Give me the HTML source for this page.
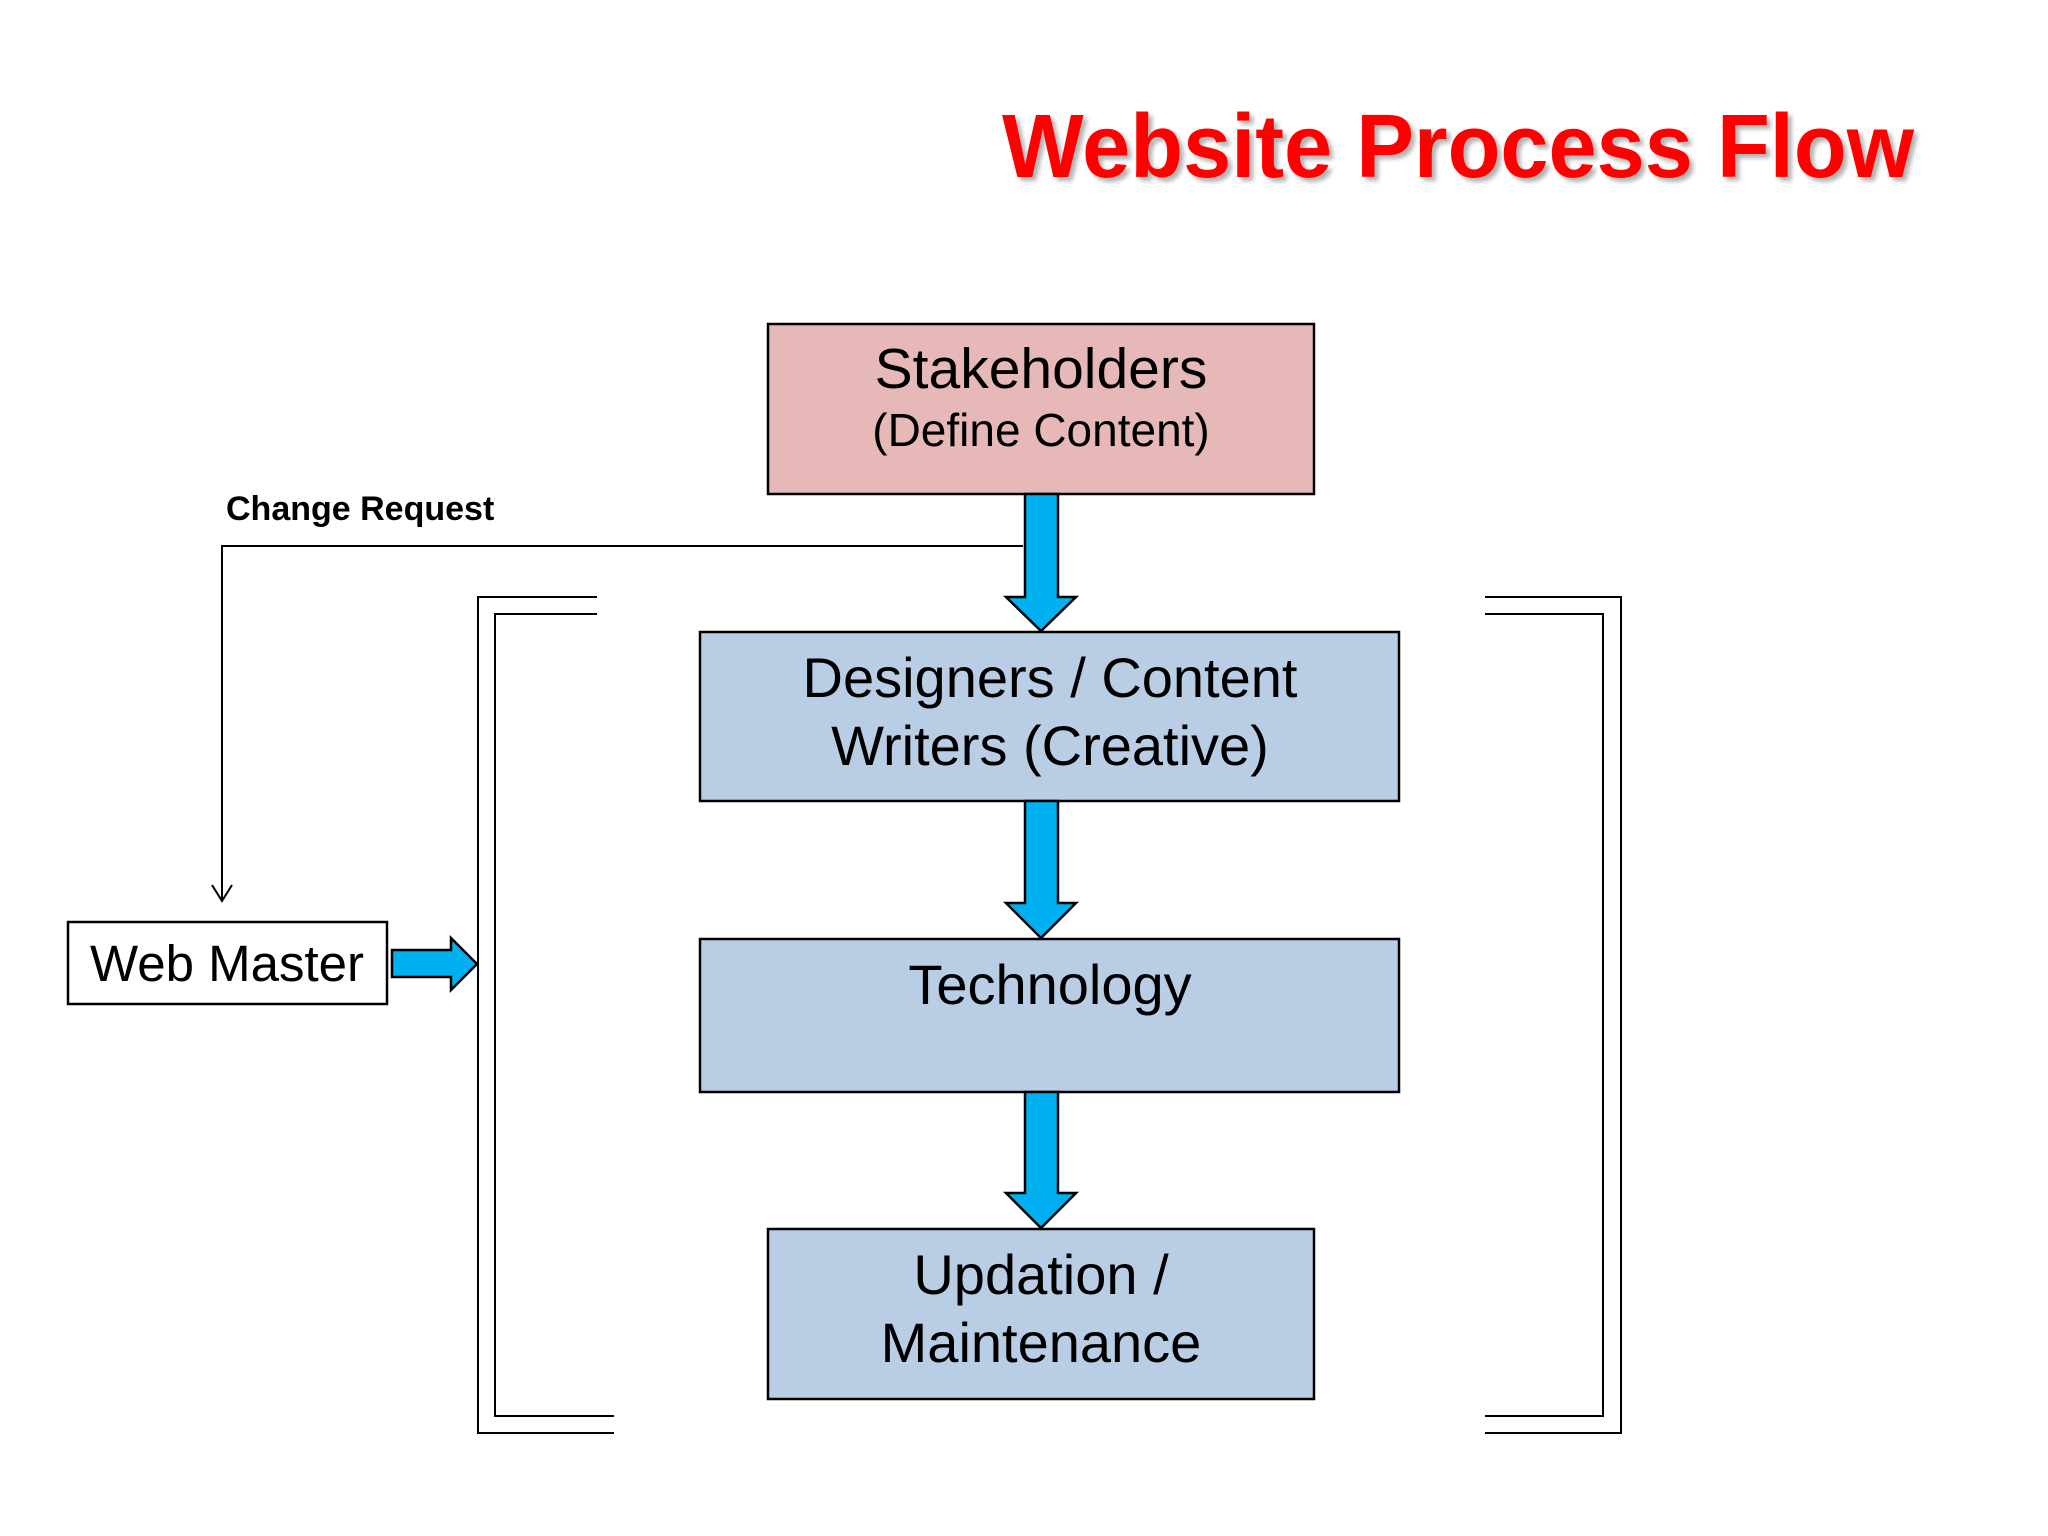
<!DOCTYPE html>
<html><head><meta charset="utf-8"><style>html,body{margin:0;padding:0;background:#fff}svg{display:block}</style></head>
<body>
<svg width="2048" height="1536" viewBox="0 0 2048 1536" xmlns="http://www.w3.org/2000/svg" font-family="Liberation Sans, sans-serif">
<defs><filter id="sh" x="-5%" y="-5%" width="110%" height="120%"><feDropShadow dx="4" dy="4" stdDeviation="2" flood-color="#000" flood-opacity="0.3"/></filter></defs>
<text x="1002" y="177" font-size="90" font-weight="bold" fill="#ff0000" textLength="912" lengthAdjust="spacingAndGlyphs" filter="url(#sh)">Website Process Flow</text>

<g stroke="#000" stroke-width="2.5">
<rect x="768" y="324" width="546" height="170" fill="#e6b8b8"/>
<rect x="700" y="632" width="699" height="169" fill="#b9cde5"/>
<rect x="700" y="939" width="699" height="153" fill="#b9cde5"/>
<rect x="768" y="1229" width="546" height="170" fill="#b9cde5"/>
<rect x="68" y="922" width="319" height="82" fill="#fff"/>
</g>

<g fill="#00b0f0" stroke="#000" stroke-width="2.5" stroke-linejoin="miter">
<polygon points="1025,494 1058,494 1058,597 1076,597 1041,631 1006,597 1025,597"/>
<polygon points="1025,801 1058,801 1058,903 1076,903 1041,938 1006,903 1025,903"/>
<polygon points="1025,1092 1058,1092 1058,1193 1076,1193 1041,1228 1006,1193 1025,1193"/>
<polygon points="392,950 451,950 451,938 477,964 451,990 451,977 392,977"/>
</g>

<g fill="none" stroke="#000" stroke-width="2">
<polyline points="1023,546 222,546 222,901"/>
<polyline points="212,885 222,901 232,885"/>
<polyline points="597,597 478,597 478,1433 614,1433"/>
<polyline points="597,614 495,614 495,1416 614,1416"/>
<polyline points="1485,597 1621,597 1621,1433 1485,1433"/>
<polyline points="1485,614 1603,614 1603,1416 1485,1416"/>
</g>

<text x="226" y="520" font-size="34" font-weight="bold">Change Request</text>

<g text-anchor="middle" fill="#000">
<text x="1041" y="388" font-size="57">Stakeholders</text>
<text x="1041" y="446" font-size="46">(Define Content)</text>
<text x="1050" y="697" font-size="56">Designers / Content</text>
<text x="1050" y="765" font-size="56">Writers (Creative)</text>
<text x="1050" y="1004" font-size="56">Technology</text>
<text x="1041" y="1294" font-size="56">Updation /</text>
<text x="1041" y="1362" font-size="56">Maintenance</text>
<text x="227" y="981" font-size="51">Web Master</text>
</g>
</svg>
</body></html>
